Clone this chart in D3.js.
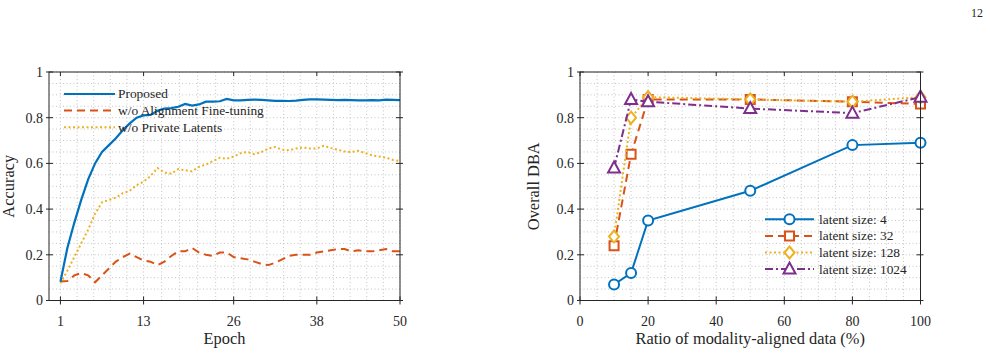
<!DOCTYPE html>
<html lang="en">
<head>
<meta charset="UTF-8">
<title>Accuracy vs epoch / Overall DBA vs aligned ratio</title>
<script src="https://d3js.org/d3.v7.min.js"></script>
<style>
    body { margin: 0; background: #fff; }
    svg text { font-family: 'Liberation Serif', 'Times New Roman', serif; fill: #262626; }
</style>
</head>
<body>
<svg width="990" height="355"></svg>
<script>
    // ---- data: left panel (accuracy per epoch) ----
    const epochs = d3.range(1, 51);
    const epochTicks = [1, 13, 26, 38, 50];
    const accProposed = [
        0.082, 0.23, 0.34, 0.44, 0.53, 0.60, 0.65, 0.68, 0.71, 0.745,
        0.775, 0.80, 0.81, 0.812, 0.83, 0.84, 0.842, 0.848, 0.86, 0.853,
        0.858, 0.87, 0.87, 0.872, 0.882, 0.876, 0.876, 0.878, 0.879, 0.878,
        0.876, 0.874, 0.874, 0.873, 0.875, 0.878, 0.88, 0.88, 0.879, 0.878,
        0.877, 0.878, 0.877, 0.876, 0.876, 0.877, 0.876, 0.879, 0.878, 0.877
    ];
    const accNoAlign = [
        0.083, 0.085, 0.11, 0.12, 0.11, 0.08, 0.11, 0.14, 0.17, 0.19,
        0.205, 0.19, 0.175, 0.17, 0.155, 0.17, 0.195, 0.215, 0.215, 0.23,
        0.21, 0.20, 0.195, 0.21, 0.21, 0.19, 0.185, 0.18, 0.17, 0.16,
        0.155, 0.165, 0.18, 0.195, 0.20, 0.20, 0.20, 0.21, 0.215, 0.22,
        0.225, 0.225, 0.215, 0.22, 0.215, 0.215, 0.22, 0.225, 0.215, 0.215
    ];
    const accNoPrivate = [
        0.075, 0.13, 0.19, 0.25, 0.31, 0.38, 0.43, 0.44, 0.45, 0.47,
        0.48, 0.505, 0.52, 0.545, 0.58, 0.56, 0.555, 0.575, 0.57, 0.565,
        0.585, 0.595, 0.61, 0.625, 0.62, 0.63, 0.645, 0.65, 0.64, 0.65,
        0.665, 0.672, 0.66, 0.658, 0.665, 0.67, 0.665, 0.665, 0.677, 0.668,
        0.66, 0.652, 0.65, 0.655, 0.645, 0.635, 0.63, 0.625, 0.615, 0.61
    ];
    const leftNames = ["Proposed", "w/o Alignment Fine-tuning", "w/o Private Latents"];

    // ---- data: right panel (overall DBA vs ratio) ----
    const ratios = [10, 15, 20, 50, 80, 100];
    const ratioTicks = [0, 20, 40, 60, 80, 100];
    const dbaLatent4 = [0.07, 0.12, 0.35, 0.48, 0.68, 0.69];
    const dbaLatent32 = [0.24, 0.64, 0.88, 0.88, 0.87, 0.86];
    const dbaLatent128 = [0.28, 0.80, 0.89, 0.88, 0.87, 0.89];
    const dbaLatent1024 = [0.58, 0.88, 0.87, 0.84, 0.82, 0.89];
    const rightNames = ["latent size: 4", "latent size: 32", "latent size: 128", "latent size: 1024"];

    const yTicks = [0, 0.2, 0.4, 0.6, 0.8, 1];
    const yTickLabels = ["0", "0.2", "0.4", "0.6", "0.8", "1"];

    // MATLAB default colours
    const colors = ["#0072BD", "#D95319", "#EDB120", "#7E2F8E"];
    const dashes = [null, "8,5", "2,2.5", "8,3,2,3"];

    const svg = d3.select("svg");
    const axisColor = "#262626";
    const gridColor = "#c4c4c4";

    // page number
    svg.append("text").attr("x", 977).attr("y", 17)
        .attr("text-anchor", "middle").style("font-size", "12px").text("12");

    // dotted grid (minor + major)
    function drawGrid(x, y, majorX, minorX) {
        const g = svg.append("g");
        const [x0, x1] = x.range();
        const [y0, y1] = y.range();
        const minorY = d3.range(0, 1.0001, 0.05);

        g.selectAll(".gx").data(minorX.concat(majorX)).join("line")
            .attr("x1", d => x(d)).attr("x2", d => x(d))
            .attr("y1", y0).attr("y2", y1)
            .attr("stroke", gridColor).attr("stroke-dasharray", "1,2.5");
        g.selectAll(".gy").data(minorY).join("line")
            .attr("x1", x0).attr("x2", x1)
            .attr("y1", d => y(d)).attr("y2", d => y(d))
            .attr("stroke", gridColor).attr("stroke-dasharray", "1,2.5");
        return g;
    }

    function drawAxes(x, y, majorX, xLabels, xTitle, yTitle, yTitleX) {
        const g = svg.append("g");
        const [x0, x1] = x.range();
        const [y0, y1] = y.range();
        g.append("rect").attr("x", x0).attr("y", y1)
            .attr("width", x1 - x0).attr("height", y0 - y1)
            .attr("fill", "none").attr("stroke", axisColor).attr("stroke-width", 1);

        // ticks on all four sides
        majorX.forEach(d => {
            g.append("line").attr("x1", x(d)).attr("x2", x(d)).attr("y1", y0 - 4).attr("y2", y0 + 4)
                .attr("stroke", axisColor);
            g.append("line").attr("x1", x(d)).attr("x2", x(d)).attr("y1", y1).attr("y2", y1 + 4)
                .attr("stroke", axisColor);
        });
        yTicks.forEach(d => {
            g.append("line").attr("x1", x0 - 3).attr("x2", x0 + 4).attr("y1", y(d)).attr("y2", y(d))
                .attr("stroke", axisColor);
            g.append("line").attr("x1", x1 - 4).attr("x2", x1 + 3).attr("y1", y(d)).attr("y2", y(d))
                .attr("stroke", axisColor);
        });

        g.selectAll(".xl").data(majorX).join("text")
            .attr("x", d => x(d)).attr("y", y0 + 25)
            .attr("text-anchor", "middle").style("font-size", "14px")
            .text((d, i) => xLabels[i]);
        g.selectAll(".yl").data(yTicks).join("text")
            .attr("x", x0 - 6).attr("y", d => y(d)).attr("dy", "0.35em")
            .attr("text-anchor", "end").style("font-size", "14px")
            .text((d, i) => yTickLabels[i]);

        g.append("text").attr("x", (x0 + x1) / 2).attr("y", y0 + 43)
            .attr("text-anchor", "middle").style("font-size", "16.4px").text(xTitle);
        g.append("text")
            .attr("transform", `translate(${yTitleX},${(y0 + y1) / 2}) rotate(-90)`)
            .attr("text-anchor", "middle").style("font-size", "16.4px").text(yTitle);
    }

    // ================= left panel =================
    const xL = d3.scaleLinear().domain([-0.65, 50]).range([49, 400]);
    const yL = d3.scaleLinear().domain([0, 1]).range([300.5, 72]);

    // minor x grid: each major interval split in five
    const minorL = [];
    for (let i = 0; i < epochTicks.length - 1; i++) {
        const a = epochTicks[i], b = epochTicks[i + 1];
        for (let k = 1; k < 5; k++) minorL.push(a + (b - a) * k / 5);
    }
    drawGrid(xL, yL, epochTicks, minorL);

    const leftSeries = [accProposed, accNoAlign, accNoPrivate];
    const lineL = d3.line().x((d, i) => xL(epochs[i])).y(d => yL(d));
    const gL = svg.append("g");
    [accNoAlign, accNoPrivate, accProposed].forEach(s => {
        const k = leftSeries.indexOf(s);
        gL.append("path").datum(s)
            .attr("d", lineL)
            .attr("fill", "none")
            .attr("stroke", colors[k])
            .attr("stroke-width", k === 0 ? 2.2 : 2)
            .attr("stroke-dasharray", dashes[k]);
    });

    // left legend
    leftNames.forEach((name, k) => {
        const yy = 94 + k * 16.6;
        gL.append("line").attr("x1", 64).attr("x2", 115).attr("y1", yy).attr("y2", yy)
            .attr("stroke", colors[k]).attr("stroke-width", 2)
            .attr("stroke-dasharray", dashes[k]);
        gL.append("text").attr("x", 118).attr("y", yy).attr("dy", "0.33em")
            .style("font-size", "13.4px").text(name);
    });

    drawAxes(xL, yL, epochTicks, epochTicks.map(String), "Epoch", "Accuracy", 14);

    // ================= right panel =================
    const xR = d3.scaleLinear().domain([0, 100]).range([580, 920.5]);
    const yR = d3.scaleLinear().domain([0, 1]).range([300.5, 72]);
    const minorR = d3.range(0, 100.1, 5).filter(d => d % 20 !== 0);
    drawGrid(xR, yR, ratioTicks, minorR);

    const rightSeries = [dbaLatent4, dbaLatent32, dbaLatent128, dbaLatent1024];
    const shapes = ["circle", "square", "diamond", "triangle"];

    function marker(sel, shape, cx, cy, color) {
        if (shape === "circle") {
            sel.append("circle").attr("cx", cx).attr("cy", cy).attr("r", 5)
                .attr("fill", "#fff").attr("stroke", color).attr("stroke-width", 2);
        } else {
            let pts;
            if (shape === "square") pts = [[-4.5, -4.5], [4.5, -4.5], [4.5, 4.5], [-4.5, 4.5]];
            else if (shape === "diamond") pts = [[0, -6], [5, 0], [0, 6], [-5, 0]];
            else pts = [[0, -6.5], [6, 4.5], [-6, 4.5]];
            sel.append("polygon")
                .attr("points", pts.map(p => [cx + p[0], cy + p[1]].join(",")).join(" "))
                .attr("fill", "#fff").attr("stroke", color).attr("stroke-width", 2);
        }
    }

    const lineR = d3.line().x((d, i) => xR(ratios[i])).y(d => yR(d));
    const gR = svg.append("g");
    rightSeries.forEach((s, k) => {
        gR.append("path").datum(s)
            .attr("d", lineR).attr("fill", "none")
            .attr("stroke", colors[k]).attr("stroke-width", 2)
            .attr("stroke-dasharray", dashes[k]);
        s.forEach((v, i) => marker(gR, shapes[k], xR(ratios[i]), yR(v), colors[k]));
    });

    // right legend
    rightNames.forEach((name, k) => {
        const yy = 219.3 + k * 16.6;
        gR.append("line").attr("x1", 765).attr("x2", 814).attr("y1", yy).attr("y2", yy)
            .attr("stroke", colors[k]).attr("stroke-width", 2)
            .attr("stroke-dasharray", dashes[k]);
        marker(gR, shapes[k], 789.5, yy, colors[k]);
        gR.append("text").attr("x", 819).attr("y", yy).attr("dy", "0.33em")
            .style("font-size", "13.4px").text(name);
    });

    drawAxes(xR, yR, ratioTicks, ratioTicks.map(String),
        "Ratio of modality-aligned data (%)", "Overall DBA", 539);
</script>
</body>
</html>
